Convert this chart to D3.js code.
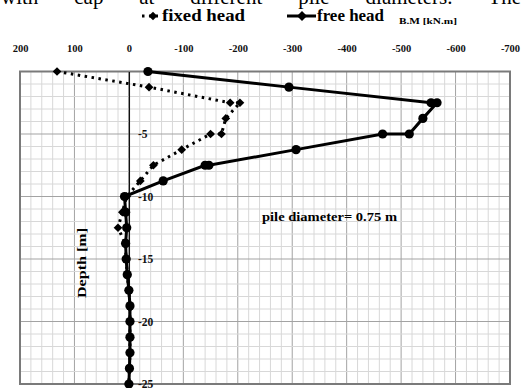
<!DOCTYPE html>
<html>
<head>
<meta charset="utf-8">
<script src="https://cdn.jsdelivr.net/npm/d3@7"></script>
<style>
  body { margin: 0; background: #fff; }
  svg { display: block; font-family: "Liberation Serif", "Times New Roman", serif; }
</style>
</head>
<body>
<svg id="chart" width="524" height="388"></svg>
<script>
// bending moment (kN.m) vs depth (m)
const fixedDepth = [0, -1.25, -2.5, -2.5, -3.75, -5, -5, -6.25, -7.5, -8.75, -10, -11.25, -12.5, -13.75, -15, -16.25, -17.5, -18.75, -20, -21.25, -22.5, -23.75, -25];
const fixedBM    = [132, -37, -186, -204, -178, -170, -150, -97, -45, -21, 4, 12, 20, 7, 5, 3, 0, -2, -2, -2, -2, -1, 0];

const freeDepth = [0, -1.25, -2.5, -2.5, -3.75, -5, -5, -6.25, -7.5, -7.5, -8.75, -10, -11.25, -12.5, -13.75, -15, -16.25, -17.5, -18.75, -20, -21.25, -22.5, -23.75, -25];
const freeBM    = [-35, -294, -555, -566, -540, -515, -466, -307, -147, -140, -63, 8, 6, 4, 6, 5, 3, 0, -2, -2, -2, -2, -1, 0];

const xTicks = [200, 100, 0, -100, -200, -300, -400, -500, -600, -700];
const yTicks = [-5, -10, -15, -20, -25];
const seriesNames = ["fixed head", "free head"];
const pageText = ["with", "cap", "at", "different", "pile", "diameters.", "The"];

const svg = d3.select("#chart");

// plot area
const pLeft = 20, pRight = 510, pTop = 71.5, pBottom = 384;

const x = d3.scaleLinear().domain([200, -700]).range([pLeft, pRight]);
const y = d3.scaleLinear().domain([0, -25]).range([pTop, pBottom]);

// cut-off line of the paper text above the figure
const words = svg.append("g").attr("font-size", 21);
const wordNodes = pageText.map(w => words.append("text").attr("y", 3.5).text(w));
const widths = wordNodes.map(t => t.node().getComputedTextLength());
const gap = (520 - d3.sum(widths)) / (pageText.length - 1);
let cx = 1;
wordNodes.forEach((t, i) => { t.attr("x", cx); cx += widths[i] + gap; });

// grid
const grid = svg.append("g");
grid.selectAll(".vmin")
  .data(d3.range(200, -701, -20))
  .enter().append("line")
  .attr("x1", d => x(d)).attr("x2", d => x(d))
  .attr("y1", pTop).attr("y2", pBottom)
  .attr("stroke", d => d % 100 === 0 ? "#a3a3a3" : "#d8d8d8")
  .attr("stroke-width", 1);
grid.selectAll(".hmin")
  .data(d3.range(0, -26, -1))
  .enter().append("line")
  .attr("x1", pLeft).attr("x2", pRight)
  .attr("y1", d => y(d)).attr("y2", d => y(d))
  .attr("stroke", d => d % 5 === 0 ? "#a3a3a3" : "#d8d8d8")
  .attr("stroke-width", 1);

// frame
svg.append("rect")
  .attr("x", pLeft).attr("y", pTop)
  .attr("width", pRight - pLeft).attr("height", pBottom - pTop)
  .attr("fill", "none")
  .attr("stroke", "#7a7a7a")
  .attr("stroke-width", 2);

// x labels on top
const xAxis = svg.append("g")
  .attr("transform", `translate(0,${pTop})`)
  .call(d3.axisTop(x).tickValues(xTicks).tickSize(0).tickPadding(20).tickFormat(d => String(d)));
xAxis.select(".domain").remove();
xAxis.selectAll("text")
  .attr("font-family", "Liberation Serif, serif")
  .attr("font-weight", "bold")
  .attr("font-size", 10.5)
  .attr("fill", "#111");

// zero line with depth labels
const yAxis = svg.append("g")
  .attr("transform", `translate(${x(0)},0)`)
  .call(d3.axisRight(y).tickValues(yTicks).tickSize(0).tickSizeOuter(0).tickPadding(9).tickFormat(d => String(d)));
yAxis.select(".domain").attr("stroke", "#111").attr("stroke-width", 1.3);
yAxis.selectAll("text")
  .attr("font-family", "Liberation Serif, serif")
  .attr("font-weight", "bold")
  .attr("font-size", 11.5)
  .attr("fill", "#111");

// lines
const fixedPts = fixedDepth.map((d, i) => [fixedBM[i], d]);
const freePts = freeDepth.map((d, i) => [freeBM[i], d]);
const line = d3.line().x(d => x(d[0])).y(d => y(d[1]));

svg.append("path")
  .datum(fixedPts)
  .attr("d", line)
  .attr("fill", "none")
  .attr("stroke", "#000")
  .attr("stroke-width", 3)
  .attr("stroke-dasharray", "2.5,4.5");

svg.append("path")
  .datum(freePts)
  .attr("d", line)
  .attr("fill", "none")
  .attr("stroke", "#000")
  .attr("stroke-width", 3);

const diamond = d3.symbol().type(d3.symbolSquare).size(38);

svg.append("g").selectAll("path")
  .data(fixedPts)
  .enter().append("path")
  .attr("d", diamond)
  .attr("transform", d => `translate(${x(d[0])},${y(d[1])}) rotate(45)`)
  .attr("fill", "#000");

svg.append("g").selectAll("circle")
  .data(freePts)
  .enter().append("circle")
  .attr("cx", d => x(d[0]))
  .attr("cy", d => y(d[1]))
  .attr("r", 4.6)
  .attr("fill", "#000");

// legend
const lg = svg.append("g").attr("font-weight", "bold").attr("font-size", 17);
lg.append("line")
  .attr("x1", 142).attr("x2", 158).attr("y1", 16).attr("y2", 16)
  .attr("stroke", "#000").attr("stroke-width", 3).attr("stroke-dasharray", "2.5,4.5");
lg.append("path").attr("d", diamond).attr("transform", "translate(153,16) rotate(45)");
lg.append("text").attr("x", 162).attr("y", 21)
  .attr("textLength", 83).attr("lengthAdjust", "spacingAndGlyphs")
  .text(seriesNames[0]);

lg.append("line")
  .attr("x1", 287).attr("x2", 316).attr("y1", 16).attr("y2", 16)
  .attr("stroke", "#000").attr("stroke-width", 3);
lg.append("path").attr("d", d3.symbol().type(d3.symbolSquare).size(50)).attr("transform", "translate(302,16) rotate(45)");
lg.append("text").attr("x", 317).attr("y", 21)
  .attr("textLength", 67).attr("lengthAdjust", "spacingAndGlyphs")
  .text(seriesNames[1]);

svg.append("text")
  .attr("x", 399).attr("y", 24)
  .attr("font-size", 8.5).attr("font-weight", "bold")
  .attr("textLength", 58).attr("lengthAdjust", "spacingAndGlyphs")
  .text("B.M [kN.m]");

// annotations
svg.append("text")
  .attr("x", 262).attr("y", 221)
  .attr("font-size", 13).attr("font-weight", "bold")
  .attr("textLength", 135).attr("lengthAdjust", "spacingAndGlyphs")
  .text("pile diameter= 0.75 m");

svg.append("text")
  .attr("transform", "translate(86,263) rotate(-90)")
  .attr("text-anchor", "middle")
  .attr("font-size", 12.5).attr("font-weight", "bold")
  .attr("textLength", 70).attr("lengthAdjust", "spacingAndGlyphs")
  .text("Depth [m]");
</script>
</body>
</html>
